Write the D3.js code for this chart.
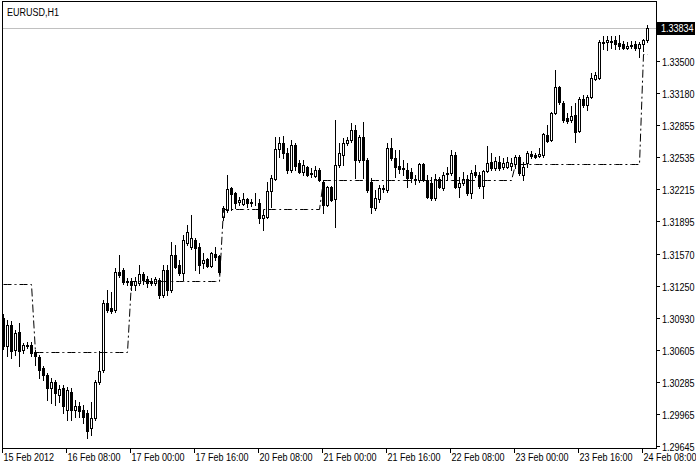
<!DOCTYPE html>
<html><head><meta charset="utf-8">
<script src="https://cdn.jsdelivr.net/npm/d3@7"></script>
<style>
body{margin:0;background:#fff}
svg{display:block}
text{font-family:"Liberation Sans",Arial,sans-serif;font-size:11px;fill:#000}
</style>
</head><body>
<svg id="c" width="696" height="464"></svg>
<script>
const symbolLabel = "EURUSD,H1";
// hourly bars: [open, high, low, close]
const ohlc = [
[1.30925,1.30965,1.30615,1.30645],[1.30645,1.30905,1.30545,1.30855],[1.30855,1.30895,1.30525,1.30595],[1.30605,1.30805,1.30555,1.30775],
[1.30785,1.30875,1.30445,1.30595],[1.30605,1.30675,1.30575,1.30655],[1.30655,1.30685,1.30625,1.30650],[1.30655,1.30685,1.30545,1.30575],
[1.30585,1.30605,1.30455,1.30545],[1.30535,1.30555,1.30325,1.30405],[1.30425,1.30445,1.30305,1.30355],[1.30355,1.30375,1.30105,1.30225],
[1.30225,1.30325,1.30075,1.30285],[1.30285,1.30305,1.30055,1.30175],[1.30155,1.30255,1.30085,1.30215],[1.30225,1.30255,1.29975,1.30045],
[1.30005,1.30235,1.29905,1.30205],[1.30185,1.30225,1.29905,1.30005],[1.30005,1.30105,1.29935,1.30045],[1.30045,1.30085,1.29935,1.29995],
[1.30005,1.30055,1.29875,1.29935],[1.29975,1.30005,1.29725,1.29795],[1.29825,1.30085,1.29755,1.29925],[1.29925,1.30305,1.29905,1.30285],
[1.30285,1.30595,1.30265,1.30395],[1.30405,1.31105,1.30385,1.31075],[1.31075,1.31205,1.30985,1.31005],[1.31025,1.31185,1.30975,1.30995],
[1.31005,1.31425,1.30985,1.31385],[1.31385,1.31555,1.31335,1.31355],[1.31405,1.31425,1.31265,1.31285],[1.31295,1.31325,1.31255,1.31290],
[1.31295,1.31325,1.31205,1.31255],[1.31255,1.31335,1.31205,1.31295],[1.31275,1.31455,1.31255,1.31365],[1.31365,1.31385,1.31265,1.31305],
[1.31315,1.31345,1.31235,1.31275],[1.31295,1.31325,1.31255,1.31275],[1.31275,1.31335,1.31255,1.31315],[1.31305,1.31325,1.31125,1.31155],
[1.31155,1.31455,1.31135,1.31405],[1.31405,1.31455,1.31155,1.31205],[1.31205,1.31685,1.31185,1.31555],[1.31555,1.31655,1.31425,1.31435],
[1.31455,1.31505,1.31355,1.31375],[1.31375,1.31755,1.31305,1.31705],[1.31675,1.31855,1.31655,1.31785],[1.31635,1.31955,1.31615,1.31725],
[1.31705,1.31725,1.31405,1.31625],[1.31635,1.31675,1.31375,1.31455],[1.31475,1.31575,1.31425,1.31505],[1.31515,1.31525,1.31435,1.31445],
[1.31445,1.31585,1.31435,1.31575],[1.31565,1.31635,1.31505,1.31535],[1.31545,1.31555,1.31365,1.31385],[1.31935,1.32045,1.31905,1.32025],
[1.32005,1.32355,1.31985,1.32215],[1.32225,1.32235,1.32005,1.32165],[1.32175,1.32185,1.32025,1.32075],[1.32085,1.32135,1.32055,1.32105],
[1.32065,1.32175,1.32055,1.32115],[1.32115,1.32125,1.32035,1.32075],[1.32085,1.32115,1.32045,1.32075],[1.32075,1.32175,1.32055,1.32080],
[1.32075,1.32115,1.31875,1.31925],[1.31925,1.32005,1.31805,1.31955],[1.31935,1.32285,1.31925,1.32195],[1.32195,1.32355,1.32035,1.32325],
[1.32315,1.32735,1.32305,1.32615],[1.32615,1.32735,1.32535,1.32675],[1.32675,1.32745,1.32525,1.32575],[1.32575,1.32625,1.32375,1.32405],
[1.32405,1.32705,1.32385,1.32655],[1.32655,1.32675,1.32405,1.32445],[1.32475,1.32505,1.32375,1.32385],[1.32385,1.32505,1.32355,1.32455],
[1.32435,1.32445,1.32345,1.32355],[1.32375,1.32425,1.32335,1.32365],[1.32345,1.32445,1.32335,1.32405],[1.32405,1.32425,1.32295,1.32305],
[1.32285,1.32305,1.31975,1.32055],[1.32055,1.32245,1.32045,1.32235],[1.32235,1.32245,1.32095,1.32105],[1.32115,1.32905,1.31835,1.32455],
[1.32455,1.32675,1.32435,1.32575],[1.32555,1.32725,1.32455,1.32675],[1.32675,1.32735,1.32655,1.32705],[1.32705,1.32875,1.32685,1.32805],
[1.32805,1.32855,1.32325,1.32505],[1.32505,1.32755,1.32485,1.32735],[1.32735,1.32885,1.32325,1.32505],[1.32505,1.32525,1.32185,1.32205],
[1.32285,1.32325,1.31975,1.32035],[1.32025,1.32205,1.32005,1.32125],[1.32115,1.32255,1.32085,1.32225],[1.32225,1.32255,1.32185,1.32215],
[1.32205,1.32675,1.32185,1.32625],[1.32625,1.32725,1.32505,1.32525],[1.32525,1.32605,1.32335,1.32435],[1.32445,1.32605,1.32375,1.32415],
[1.32425,1.32505,1.32355,1.32420],[1.32405,1.32475,1.32235,1.32325],[1.32385,1.32425,1.32285,1.32325],[1.32315,1.32355,1.32265,1.32305],
[1.32305,1.32475,1.32285,1.32465],[1.32465,1.32475,1.32295,1.32305],[1.32305,1.32355,1.32125,1.32135],[1.32275,1.32335,1.32105,1.32125],
[1.32125,1.32365,1.32105,1.32315],[1.32315,1.32335,1.32225,1.32235],[1.32225,1.32385,1.32205,1.32355],[1.32375,1.32435,1.32305,1.32365],
[1.32375,1.32605,1.32355,1.32555],[1.32555,1.32585,1.32225,1.32235],[1.32235,1.32335,1.32135,1.32275],[1.32275,1.32385,1.32255,1.32315],
[1.32315,1.32355,1.32155,1.32175],[1.32175,1.32405,1.32125,1.32375],[1.32385,1.32455,1.32335,1.32355],[1.32355,1.32385,1.32225,1.32245],
[1.32245,1.32405,1.32125,1.32395],[1.32395,1.32645,1.32385,1.32475],[1.32485,1.32575,1.32405,1.32425],[1.32425,1.32535,1.32405,1.32495],
[1.32485,1.32545,1.32405,1.32425],[1.32435,1.32525,1.32415,1.32475],[1.32435,1.32535,1.32425,1.32485],[1.32445,1.32525,1.32405,1.32475],
[1.32465,1.32555,1.32425,1.32535],[1.32535,1.32555,1.32355,1.32375],[1.32355,1.32485,1.32305,1.32435],[1.32475,1.32595,1.32435,1.32575],
[1.32565,1.32595,1.32525,1.32545],[1.32555,1.32575,1.32525,1.32535],[1.32545,1.32625,1.32535,1.32565],[1.32555,1.32775,1.32535,1.32765],
[1.32755,1.32855,1.32685,1.32695],[1.32705,1.32985,1.32695,1.32975],[1.32975,1.33405,1.32965,1.33235],[1.33235,1.33245,1.33065,1.33085],
[1.33075,1.33095,1.32885,1.32905],[1.32925,1.32975,1.32875,1.32895],[1.32905,1.33045,1.32885,1.32945],[1.32955,1.33075,1.32685,1.32785],
[1.32795,1.33135,1.32785,1.33115],[1.33115,1.33155,1.33035,1.33055],[1.33055,1.33155,1.33005,1.33135],[1.33135,1.33375,1.33125,1.33325],
[1.33315,1.33385,1.33305,1.33355],[1.33325,1.33715,1.33315,1.33695],[1.33695,1.33755,1.33625,1.33685],[1.33695,1.33755,1.33615,1.33715],
[1.33705,1.33755,1.33635,1.33695],[1.33715,1.33755,1.33625,1.33675],[1.33685,1.33765,1.33625,1.33655],[1.33675,1.33705,1.33625,1.33635],
[1.33635,1.33695,1.33625,1.33655],[1.33655,1.33705,1.33635,1.33665],[1.33675,1.33705,1.33615,1.33635],[1.33635,1.33695,1.33545,1.33675],
[1.33675,1.33725,1.33605,1.33715],[1.33715,1.33865,1.33695,1.33834]
];
// dash-dot indicator: level values and the bar index where each level starts
const levelValues = [1.31265, 1.30585, 1.31295, 1.32015, 1.32310, 1.32465, 1.33575];
const levelStarts = [0, 8, 32, 55, 80, 128, 160];
const timeTicks = [0,16,32,48,64,80,96,112,128,144,160];
const timeLabels = ["15 Feb 2012","16 Feb 08:00","17 Feb 00:00","17 Feb 16:00","20 Feb 08:00","21 Feb 00:00","21 Feb 16:00","22 Feb 08:00","23 Feb 00:00","23 Feb 16:00","24 Feb 08:00"];
const priceTicks = [1.33500,1.33180,1.32855,1.32535,1.32215,1.31895,1.31570,1.31250,1.30930,1.30605,1.30285,1.29965,1.29645];
const lastPrice = 1.33834;

const svg = d3.select("#c");
const L = 2, R = 656, T = 1, B = 448;
const SX = 0.82; // horizontal squeeze to mimic the narrow terminal font

const x = d3.scaleLinear().domain([0, 161]).range([3, 647]);
const y = d3.scaleLinear().domain([1.29645, 1.33500]).range([446, 61]);

function label(px, py, str, fill) {
  return svg.append("text")
    .attr("transform", `translate(${px},${py}) scale(${SX},1)`)
    .style("fill", fill || "#000")
    .text(str);
}

// frame
svg.append("rect").attr("x", L + 0.5).attr("y", T + 0.5).attr("width", R - L).attr("height", B - T)
  .attr("fill", "#fff").attr("stroke", "#000").attr("shape-rendering", "crispEdges");

label(7, 16, symbolLabel);

// bid line
const yb = Math.round(y(lastPrice)) + 0.5;
svg.append("line").attr("x1", L + 1).attr("x2", R).attr("y1", yb).attr("y2", yb)
  .attr("stroke", "#c0c0c0").attr("shape-rendering", "crispEdges");

// indicator per bar
const signal = ohlc.map((d, i) => {
  let k = 0;
  for (let j = 0; j < levelStarts.length; j++) if (i >= levelStarts[j]) k = j;
  return levelValues[k];
});

const g = svg.append("g").attr("shape-rendering", "crispEdges");

// candles
ohlc.forEach((d, i) => {
  const [o, h, l, c] = d;
  const cx = Math.round(x(i));
  const yh = Math.round(y(h)), yl = Math.round(y(l));
  const yo = Math.round(y(o)), yc = Math.round(y(c));
  g.append("line").attr("x1", cx + 0.5).attr("x2", cx + 0.5).attr("y1", yh).attr("y2", yl + 1)
    .attr("stroke", "#000");
  const top = Math.min(yo, yc), bot = Math.max(yo, yc);
  if (c > o) {
    g.append("rect").attr("x", cx - 0.5).attr("y", top + 0.5).attr("width", 2).attr("height", Math.max(bot - top, 0))
      .attr("fill", "#fff").attr("stroke", "#000");
  } else {
    g.append("rect").attr("x", cx - 1).attr("y", top).attr("width", 3).attr("height", bot - top + 1)
      .attr("fill", "#000");
  }
});

// dash-dot line
const line = d3.line().x((d, i) => Math.round(x(i)) + 0.5).y(d => Math.round(y(d)) + 0.5);
svg.append("path").datum(signal).attr("d", line).attr("fill", "none").attr("stroke", "#000")
  .attr("stroke-width", 1).attr("stroke-dasharray", "8,3,2,3");

// right axis
priceTicks.forEach(p => {
  const yy = Math.round(y(p)) + 0.5;
  svg.append("line").attr("x1", R).attr("x2", R + 4).attr("y1", yy).attr("y2", yy)
    .attr("stroke", "#000").attr("shape-rendering", "crispEdges");
  label(R + 6, yy + 4, p.toFixed(5));
});

// last price box
const yl2 = Math.round(y(lastPrice));
svg.append("rect").attr("x", R + 1).attr("y", yl2 - 6).attr("width", 38).attr("height", 13).attr("fill", "#000");
label(R + 5, yl2 + 4, lastPrice.toFixed(5), "#fff");

// bottom axis
timeTicks.forEach((t, k) => {
  const xx = Math.round(x(t)) - 0.5;
  svg.append("line").attr("x1", xx).attr("x2", xx).attr("y1", B).attr("y2", B + 5)
    .attr("stroke", "#000").attr("shape-rendering", "crispEdges");
  label(xx + 1, 461, timeLabels[k]);
});
</script>
</body></html>
